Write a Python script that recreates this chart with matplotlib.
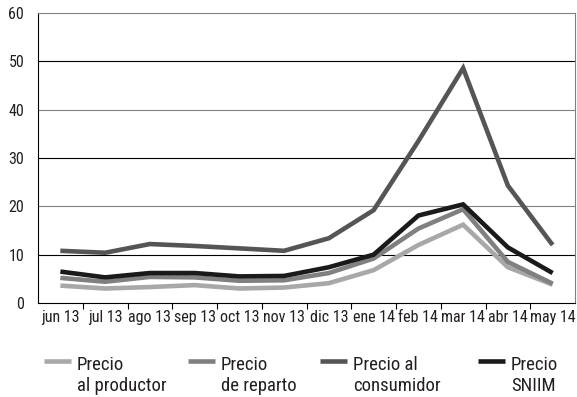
import matplotlib.pyplot as plt
from matplotlib import font_manager
import numpy as np

installed = {f.name for f in font_manager.fontManager.ttflist}
prefer = ['Roboto Condensed', 'Open Sans Condensed', 'Fira Sans Condensed',
          'PT Sans Narrow', 'Archivo Narrow', 'Barlow Semi Condensed']
family = next((f for f in prefer if f in installed), 'DejaVu Sans')
plt.rcParams['font.family'] = [family, 'DejaVu Sans']

meses = ['jun 13', 'jul 13', 'ago 13', 'sep 13', 'oct 13', 'nov 13',
         'dic 13', 'ene 14', 'feb 14', 'mar 14', 'abr 14', 'may 14']
productor = [3.6, 3.0, 3.3, 3.7, 3.0, 3.2, 4.1, 6.8, 12.0, 16.2, 7.4, 3.8]
reparto = [5.2, 4.4, 5.4, 5.3, 4.6, 4.7, 6.2, 9.2, 15.4, 19.4, 8.5, 4.0]
consumidor = [10.8, 10.4, 12.2, 11.8, 11.3, 10.8, 13.4, 19.2, 33.5, 48.6, 24.3, 12.0]
sniim = [6.5, 5.3, 6.2, 6.2, 5.5, 5.6, 7.4, 10.0, 18.1, 20.4, 11.5, 6.2]

series = [productor, reparto, consumidor, sniim]
etiquetas = ['Precio\nal productor', 'Precio\nde reparto', 'Precio al\nconsumidor', 'Precio\nSNIIM']
colores = ['#a8a8a8', '#808080', '#555555', '#1a1a1a']

W, H = 577, 397
fig = plt.figure(figsize=(W / 100, H / 100), dpi=100)
ax = fig.add_axes([38 / W, 1 - 303 / H, (575 - 38) / W, (303 - 13) / H])

x = np.arange(len(meses))
for ys, c in zip(series, colores):
    ax.plot(x, ys, color=c, lw=3.3, solid_joinstyle='miter', solid_capstyle='butt')

# grid lines: black at 10/30/50, grey at 20/40
for v in [10, 30, 50]:
    ax.axhline(v, color='black', lw=0.8, zorder=0)
for v in [20, 40]:
    ax.axhline(v, color='#808080', lw=0.8, zorder=0)

ax.set_xlim(-0.5, len(meses) - 0.5)
ax.set_ylim(0, 60)
ax.set_yticks(range(0, 61, 10))
ax.set_xticks(x)
ax.set_xticklabels(meses)
ax.set_xticks(np.arange(0.5, len(meses) - 0.5), minor=True)
ax.tick_params(axis='x', which='major', length=0, labelsize=11.5, pad=5, colors='#231f20')
ax.tick_params(axis='x', which='minor', length=4, width=0.8, direction='out')
ax.tick_params(axis='y', length=0, labelsize=11.5, pad=10, colors='#231f20')
ax.spines['left'].set_color('black')
ax.spines['bottom'].set_color('black')
ax.spines['top'].set_color('#808080')
ax.spines['right'].set_color('#808080')
for s in ax.spines.values():
    s.set_linewidth(0.8)

# legend drawn by hand so the swatch sits at the first text line
leg_x = [44, 188, 320, 478]
for lx, lab, c in zip(leg_x, etiquetas, colores):
    y0 = 1 - 361 / H
    fig.add_artist(plt.Line2D([lx / W, (lx + 27) / W], [y0, y0], color=c, lw=3.3,
                              transform=fig.transFigure, solid_capstyle='butt'))
    fig.text((lx + 33) / W, 1 - 391 / H, lab, ha='left', va='baseline', fontsize=13.5,
             color='#231f20', linespacing=1.2)

fig.savefig('out.png', dpi=100)
